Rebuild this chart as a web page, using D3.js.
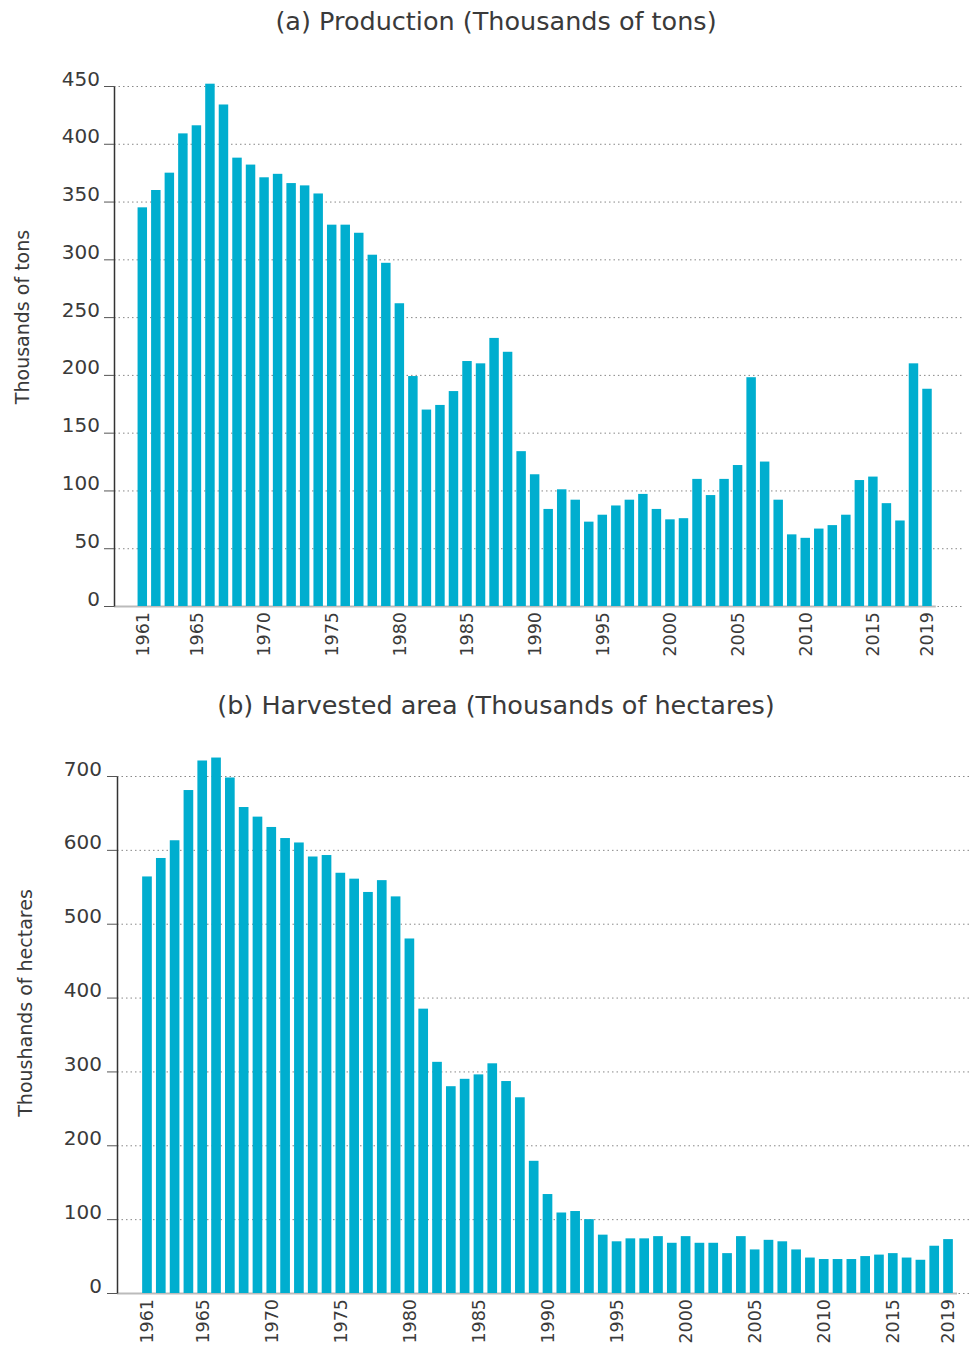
<!DOCTYPE html>
<html>
<head>
<meta charset="utf-8">
<script src="https://cdn.jsdelivr.net/npm/d3@7"></script>
<style>
  body { margin: 0; background: #fff; }
  text { font-family: "DejaVu Sans", sans-serif; fill: #3a3a3a; }
  .grid line { stroke: #888; stroke-dasharray: 1.5,3; }
  .grid .domain { display: none; }
</style>
</head>
<body>
<div id="chart"></div>
<script>
const years = d3.range(1961, 2020);
const yearTicks = [1961, 1965, 1970, 1975, 1980, 1985, 1990, 1995, 2000, 2005, 2010, 2015, 2019];

// (a) production, thousands of tons
const production = [
  345, 360, 375, 409, 416, 452, 434, 388, 382, 371,
  374, 366, 364, 357, 330, 330, 323, 304, 297, 262,
  199, 170, 174, 186, 212, 210, 232, 220, 134, 114,
  84, 101, 92, 73, 79, 87, 92, 97, 84, 75,
  76, 110, 96, 110, 122, 198, 125, 92, 62, 59,
  67, 70, 79, 109, 112, 89, 74, 210, 188
];
const productionTicks = [0, 50, 100, 150, 200, 250, 300, 350, 400, 450];

// (b) harvested area, thousands of hectares
const area = [
  564, 589, 613, 681, 721, 725, 698, 658, 645, 631,
  616, 610, 591, 593, 569, 561, 543, 559, 537, 480,
  385, 313, 280, 290, 296, 311, 287, 265, 179, 134,
  109, 111, 100, 79, 70, 74, 74, 77, 68, 77,
  68, 68, 54, 77, 59, 72, 70, 59, 48, 46,
  46, 46, 50, 52, 54, 48, 45, 64, 73
];
const areaTicks = [0, 100, 200, 300, 400, 500, 600, 700];

const barColor = '#00aecf';

const svg = d3.select('#chart')
  .append('svg')
  .attr('width', 971)
  .attr('height', 1346);

function drawPanel(cfg) {
  const g = svg.append('g');

  const x = d3.scaleBand()
    .domain(years)
    .range([cfg.x0, cfg.x1])
    .padding(0.3);

  const y = d3.scaleLinear()
    .domain([0, cfg.max])
    .range([cfg.bottom, cfg.top]);

  // title
  g.append('text')
    .attr('x', 496)
    .attr('y', cfg.titleY)
    .attr('text-anchor', 'middle')
    .style('font-size', '25.5px')
    .text(cfg.title);

  // dotted grid
  g.append('g')
    .attr('class', 'grid')
    .attr('transform', `translate(${cfg.axisX}, 0)`)
    .call(d3.axisLeft(y)
      .tickValues(cfg.ticks)
      .tickSize(-(cfg.gridEnd - cfg.axisX))
      .tickFormat(''));

  // light base line under bars
  g.append('line')
    .attr('x1', cfg.axisX)
    .attr('x2', cfg.x1)
    .attr('y1', cfg.bottom + 0.5)
    .attr('y2', cfg.bottom + 0.5)
    .attr('stroke', '#bbb')
    .attr('stroke-width', 2);

  g.selectAll('rect.bar')
    .data(cfg.values)
    .enter()
    .append('rect')
    .attr('class', 'bar')
    .attr('x', (d, i) => x(years[i]))
    .attr('y', d => y(d))
    .attr('width', x.bandwidth())
    .attr('height', d => y(0) - y(d))
    .attr('fill', barColor);

  // y axis
  const yAxis = g.append('g')
    .attr('transform', `translate(${cfg.axisX}, 0)`)
    .call(d3.axisLeft(y)
      .tickValues(cfg.ticks)
      .tickSizeInner(10)
      .tickSizeOuter(0)
      .tickPadding(cfg.tickPad));
  yAxis.select('.domain').attr('stroke', '#333').attr('stroke-width', 1.5);
  yAxis.selectAll('.tick line').attr('stroke', '#555');
  yAxis.selectAll('.tick text')
    .attr('dy', '-0.05em')
    .style('font-size', '20px')
    .style('fill', '#3a3a3a');

  // x axis labels
  const xAxis = g.append('g')
    .attr('transform', `translate(0, ${cfg.bottom})`)
    .call(d3.axisBottom(x)
      .tickValues(yearTicks)
      .tickSize(0));
  xAxis.select('.domain').remove();
  xAxis.selectAll('.tick text')
    .attr('transform', 'rotate(-90)')
    .attr('text-anchor', 'end')
    .attr('x', -6)
    .attr('y', 0)
    .attr('dy', '0.36em')
    .style('font-size', '17.5px')
    .style('fill', '#3a3a3a');

  // y axis title
  g.append('text')
    .attr('transform', `translate(${cfg.labelX}, ${cfg.labelY}) rotate(-90)`)
    .attr('text-anchor', 'middle')
    .style('font-size', '19px')
    .text(cfg.yLabel);
}

drawPanel({
  title: '(a) Production (Thousands of tons)',
  titleY: 30,
  values: production,
  ticks: productionTicks,
  max: 450,
  top: 86,
  bottom: 606,
  x0: 133.5,
  x1: 935.8,
  axisX: 114,
  gridEnd: 962,
  tickPad: 4,
  labelX: 29,
  labelY: 317,
  yLabel: 'Thousands of tons'
});

drawPanel({
  title: '(b) Harvested area (Thousands of hectares)',
  titleY: 714,
  values: area,
  ticks: areaTicks,
  max: 700,
  top: 776,
  bottom: 1293,
  x0: 138,
  x1: 957,
  axisX: 117,
  gridEnd: 970,
  tickPad: 5,
  labelX: 32,
  labelY: 1003,
  yLabel: 'Thoushands of hectares'
});
</script>
</body>
</html>
